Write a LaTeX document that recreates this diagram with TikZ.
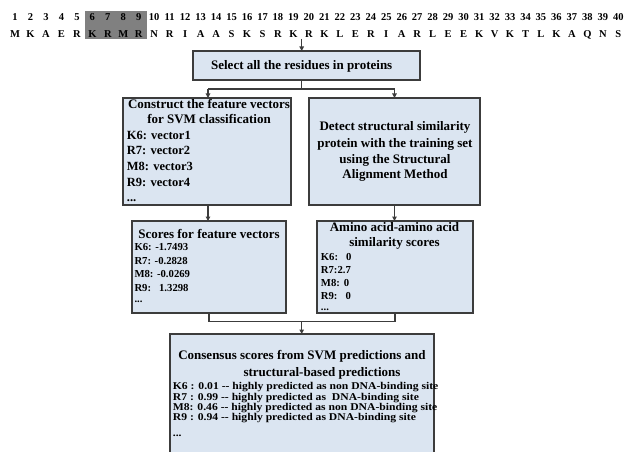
\documentclass[tikz,border=0pt]{standalone}
\usepackage{fontspec}
\setmainfont{Liberation Serif}
\newfontfamily\widefont[FakeStretch=1.12]{Liberation Serif}
\usetikzlibrary{arrows.meta}
\definecolor{boxfill}{HTML}{DBE5F1}
\definecolor{boxline}{HTML}{3C3C3C}
\definecolor{hilite}{HTML}{808080}
\tikzset{
 box/.style={draw=boxline, line width=1.2pt, fill=boxfill, inner sep=0pt, outer sep=0pt},
 ttl/.style={font=\bfseries\fontsize{13}{15}\selectfont, anchor=base, inner sep=0pt},
 lst/.style={font=\bfseries\fontsize{12.5}{15}\selectfont, anchor=base west, inner sep=0pt},
 sml/.style={font=\bfseries\fontsize{10.7}{13}\selectfont, anchor=base west, inner sep=0pt},
 cns/.style={font=\widefont\bfseries\fontsize{10.4}{12}\selectfont, anchor=base west, inner sep=0pt},
 seq/.style={font=\bfseries\fontsize{10.5}{12}\selectfont, anchor=base, inner sep=0pt},
 conn/.style={draw=boxline, line width=1.2pt},
 arr/.style={conn, -{Triangle[length=4.5pt,width=4.5pt]}},
}
\begin{document}
\begin{tikzpicture}[x=1pt,y=-1pt]
\useasboundingbox (0,0) rectangle (625,452);
% highlighted residues
\node[fill=hilite, inner sep=0pt, minimum width=62pt, minimum height=28pt] (hl) at (115.7,25) {};
\foreach \i in {1,...,40} \node[seq] (n\i) at ({15+(\i-1)*15.47},20.5) {\i};
\foreach \c [count=\i] in {M,K,A,E,R,K,R,M,R,N,R,I,A,A,S,K,S,R,K,R,K,L,E,R,I,A,R,L,E,E,K,V,K,T,L,K,A,Q,N,S}
  \node[seq] (r\i) at ({15+(\i-1)*15.47},37.5) {\c};

% boxes
\node[box, minimum width=227pt, minimum height=29pt] (sel) at (306.5,65.5) {};
\node[box, minimum width=168pt, minimum height=107pt] (feat) at (207,151.5) {};
\node[box, minimum width=171pt, minimum height=107pt] (detect) at (394.5,151.5) {};
\node[box, minimum width=154pt, minimum height=92pt] (scores) at (209,267) {};
\node[box, minimum width=156pt, minimum height=92pt] (amino) at (395,267) {};
\node[box, minimum width=264pt, minimum height=146pt] (cons) at (302,407) {};

% connectors
\coordinate (top) at (301.7,39);
\coordinate (sp) at (301.7,89);
\coordinate (mg) at (301.7,321.7);
\draw[arr] (top) -- (top |- sel.north);
\draw[conn] (sel.south -| sp) -- (sp);
\draw[conn] ([xshift=1pt]feat.north |- sp) -- (detect.north |- sp);
\draw[arr] ([xshift=1pt]feat.north |- sp) -- ([xshift=1pt]feat.north);
\draw[arr] (detect.north |- sp) -- (detect.north);
\draw[arr] ([xshift=1pt]feat.south) -- ([xshift=1pt]feat.south |- scores.north);
\draw[arr] (detect.south) -- (detect.south |- amino.north);
\draw[conn] (scores.south) -- (scores.south |- mg) -- (amino.south |- mg) -- (amino.south);
\draw[arr] (mg) -- (mg |- cons.north);

% texts
\node[ttl] (selt) at (301.7,69.5) {Select all the residues in proteins};

\node[ttl] (ft1) at (209,108.5) {Construct the feature vectors};
\node[ttl] (ft2) at (209,124) {for SVM classification};
\node[lst] (fl1) at (126.7,139.5) {K6: vector1};
\node[lst] (fl2) at (126.7,155) {R7: vector2};
\node[lst] (fl3) at (126.7,171) {M8: vector3};
\node[lst] (fl4) at (126.7,186) {R9: vector4};
\node[lst] (fl5) at (126.7,201) {...};

\node[ttl] (dt1) at (395,131) {Detect structural similarity};
\node[ttl] (dt2) at (395,147.5) {protein with the training set};
\node[ttl] (dt3) at (395,163.5) {using the Structural};
\node[ttl] (dt4) at (395,178.5) {Alignment Method};

\node[ttl] (st) at (209,238.5) {Scores for feature vectors};
\node[sml] (sl1) at (134.3,251) {K6: -1.7493};
\node[sml] (sl2) at (134.3,264.3) {R7: -0.2828};
\node[sml] (sl3) at (134.3,277.6) {M8: -0.0269};
\node[sml] (sl4) at (134.3,291) {R9:\hspace{8pt}1.3298};
\node[sml] (sl5) at (134.3,302) {...};

\node[ttl] (at1) at (394.5,231) {Amino acid-amino acid};
\node[ttl] (at2) at (394.5,246.5) {similarity scores};
\node[sml] (al1) at (320.7,260) {K6:\hspace{8pt}0};
\node[sml] (al2) at (320.7,273) {R7:2.7};
\node[sml] (al3) at (320.7,286) {M8:\hspace{4pt}0};
\node[sml] (al4) at (320.7,299) {R9:\hspace{8pt}0};
\node[sml] (al5) at (320.7,310.5) {...};

\node[ttl] (ct1) at (302,359.5) {Consensus scores from SVM predictions and};
\node[ttl] (ct2) at (322,376) {structural-based predictions};
\node[cns] (cl1) at (172.7,389.5) {K6 : 0.01 -- highly predicted as non DNA-binding site};
\node[cns] (cl2) at (172.7,400) {R7 : 0.99 -- highly predicted as\hspace{3pt} DNA-binding site};
\node[cns] (cl3) at (172.7,410) {M8: 0.46 -- highly predicted as non DNA-binding site};
\node[cns] (cl4) at (172.7,420.5) {R9 : 0.94 -- highly predicted as DNA-binding site};
\node[cns] (cl5) at (172.7,436) {...};
\end{tikzpicture}
\end{document}
